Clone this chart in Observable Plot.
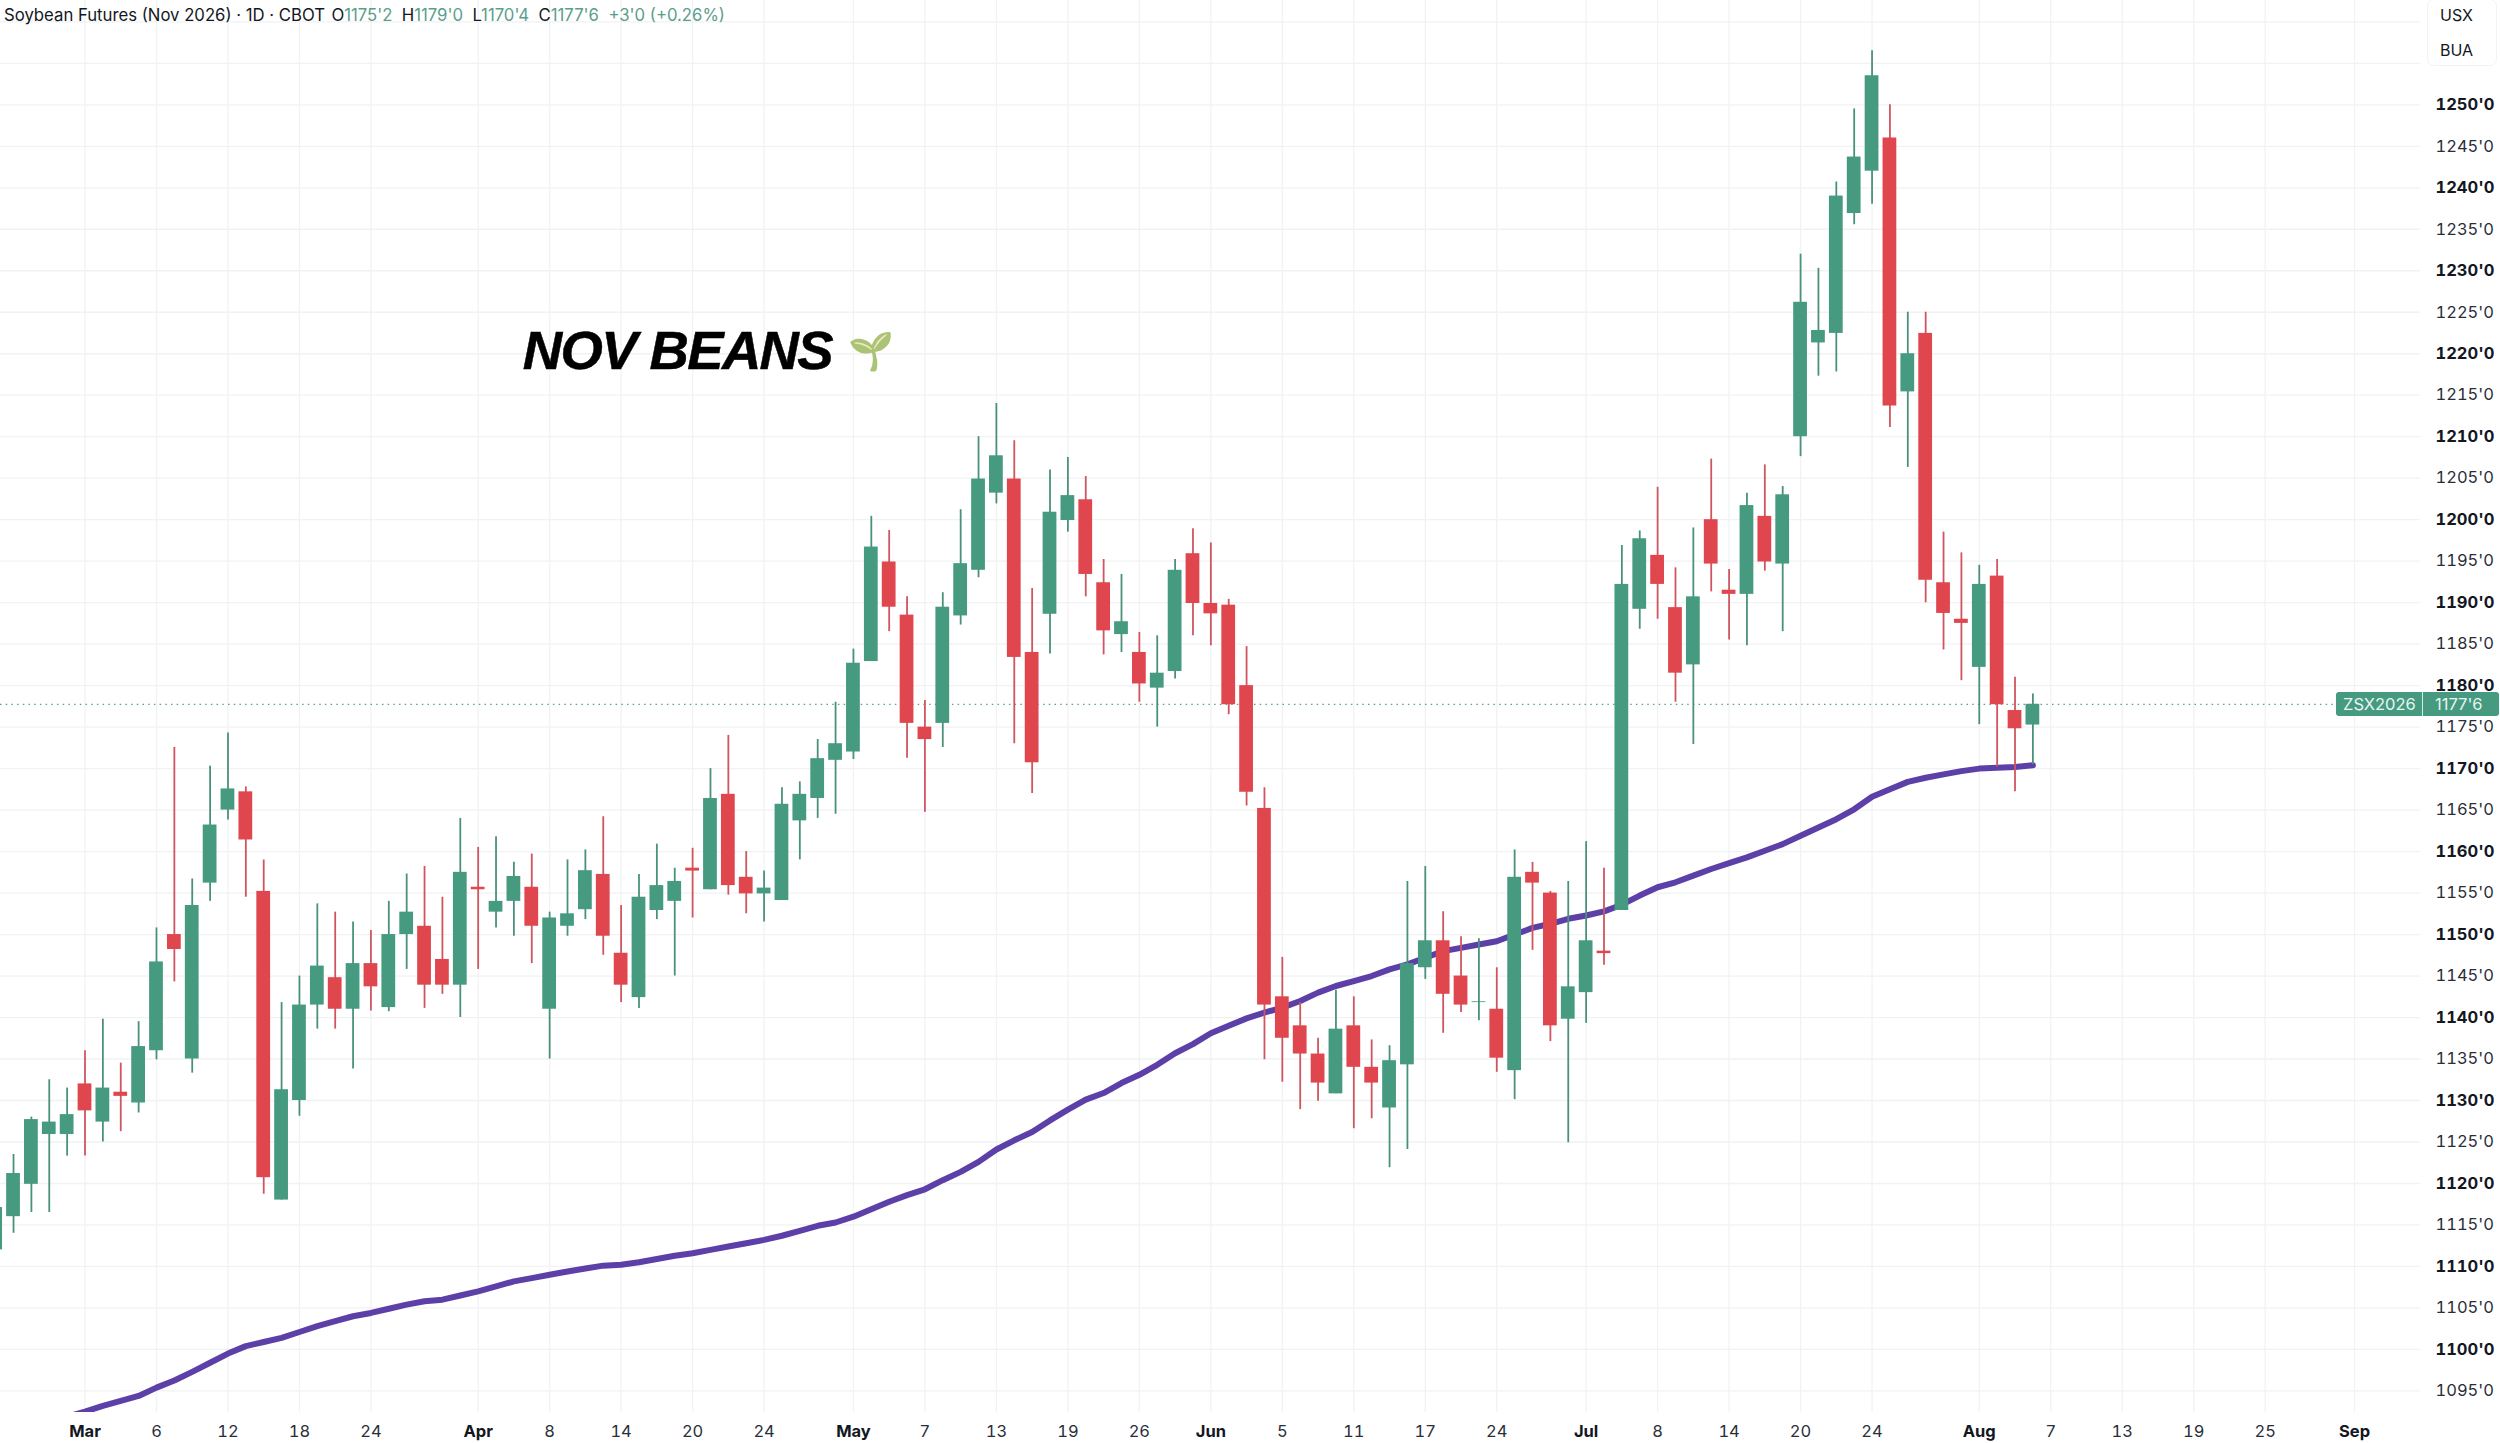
<!DOCTYPE html>
<html><head><meta charset="utf-8">
<script src="https://cdn.jsdelivr.net/npm/d3@7"></script>
<script src="https://cdn.jsdelivr.net/npm/@observablehq/plot@0.6"></script>
<style>
html,body{margin:0;padding:0;background:#fff;overflow:hidden}
#wrap{position:relative;width:2500px;height:1443px;font-family:Inter,sans-serif;color:#131722}
#head{position:absolute;left:4px;top:3px;font-size:16.72px;line-height:24px;white-space:pre}
#head .v{color:#5b9e8a}
#head .o{margin-left:-3px}
#unit{position:absolute;left:2427px;top:-1px;width:70px;height:67px;border:1px solid #f2f3f5;border-radius:7px;box-sizing:border-box;font-size:16px}
#unit div{position:absolute;left:12px}
#tag{position:absolute;left:2336px;width:163px;height:24px;background:#459a80;color:#e9f4f0;border-radius:3px;font-size:16.5px;line-height:24px}
#tag span{position:absolute;top:0}
#tag i{position:absolute;left:86px;top:0;width:1px;height:24px;background:#d8ebe5}
.beans text{letter-spacing:-1.65px;stroke:#000;stroke-width:.5px}
.sprout text{filter:saturate(.55) brightness(1.05)}
</style></head><body><div id="wrap"></div>
<script>
const firstIndex = -5;
const opens = [
 1112,1116,1119.9,1125.9,1125.9,1132,1127.4,1131,1129.7,1136,
 1150,1135,1156.2,1165,1167.2,1155.2,1118,1130,1141.5,1144.8,
 1141,1146.5,1141.2,1150,1151,1147,1143.9,1155.7,1152.7,1154,
 1155.7,1141,1151,1153,1157.25,1147.75,1142.4,1152.9,1154,1158,
 1155.4,1166.9,1156.9,1154.9,1154.1,1163.7,1166.4,1171,1172,1182.9,
 1194.9,1188.5,1175,1175.45,1188.4,1193.9,1203.2,1204.9,1184,1188.6,
 1199.9,1202.4,1192.4,1186.15,1184,1179.7,1181.7,1195.9,1189.9,1189.7,
 1180,1165.2,1142.5,1139,1135.6,1130.8,1139,1134,1129.1,1134.3,
 1146,1149.25,1145,1141.8,1141,1133.6,1157.5,1155,1139.8,1143,
 1148,1152.9,1189.2,1195.7,1189.4,1182.5,1200,1191.5,1191,1200.4,
 1194.65,1210,1221.3,1222.45,1236.9,1242,1246,1215.4,1222.45,1192.4,
 1188,1182.2,1193.2,1177,1175.25];
const closes = [
 1117.1,1121.2,1127.7,1127.4,1128.3,1128.75,1131.5,1130.5,1136.5,1146.7,
 1148.2,1153.5,1163.2,1167.55,1161.4,1120.7,1131.3,1141.5,1146.2,1141,
 1146.5,1143.7,1150,1152.7,1143.9,1143.9,1157.5,1155.4,1154,1157,
 1151,1152,1152.5,1157.7,1149.8,1143.9,1154.5,1155.9,1156.4,1157.65,
 1166.4,1155.9,1154.9,1155.6,1165.7,1166.9,1171.2,1173,1182.7,1196.7,
 1189.45,1175.45,1173.5,1189.45,1194.7,1204.9,1207.7,1183.4,1170.7,1200.9,
 1202.9,1193.4,1186.6,1187.7,1180.2,1181.5,1193.9,1189.9,1188.65,1177.7,
 1167.15,1141.5,1137.5,1135.6,1132.1,1138.6,1134,1132.1,1134.8,1146.5,
 1149.25,1142.8,1141.5,1141.9,1135.1,1156.9,1156.2,1139,1143.7,1149.25,
 1147.7,1192.2,1197.7,1192.2,1181.5,1190.7,1194.65,1191,1201.7,1194.9,
 1203,1226.2,1222.8,1239,1243.7,1253.5,1213.7,1220,1192.7,1188.7,
 1187.5,1192.2,1177.7,1174.8,1177.75];
const highs = [
 1118,1123.5,1128,1132.5,1131.5,1136,1139.8,1134.5,1139.5,1150.8,
 1172.55,1156.7,1170.3,1174.3,1167.8,1159,1141.8,1145,1153.7,1152.7,
 1151.5,1150.5,1154,1157.3,1158.2,1154.5,1164,1160.5,1161.8,1158.7,
 1159.7,1152.7,1159,1160.2,1164.2,1153.5,1157.25,1160.9,1158,1160.4,
 1170,1174,1160,1157.65,1167.7,1168.4,1173.5,1178,1184.4,1200.4,
 1198.7,1190.7,1178.2,1191.2,1201.2,1210,1214,1209.5,1191.7,1206,
 1207.5,1205.2,1195.2,1193.4,1186.4,1186,1195.2,1198.9,1197.2,1190.4,
 1184.7,1167.7,1147.25,1141.8,1137.5,1143.3,1142.5,1137.3,1136.6,1156.4,
 1158.2,1152.75,1149.75,1149.5,1146,1160.2,1158.7,1155.2,1156.4,1161.2,
 1158,1196.9,1198.65,1203.9,1194.2,1199,1207.3,1194,1203.2,1206.6,
 1204,1232,1230.3,1240.7,1249.5,1256.5,1250,1225,1225,1198.5,
 1196,1194.5,1195.2,1181,1179];
const lows = [
 1111.7,1114,1116.5,1116.5,1123.3,1123.3,1125,1126.25,1128.5,1134.9,
 1144.3,1133.3,1154,1163.8,1154.5,1118.7,1118,1128.1,1138.6,1138.6,
 1133.8,1140.8,1140.7,1145.8,1141.1,1142.8,1140,1145.8,1150.8,1149.8,
 1146.5,1135,1149.8,1151.8,1147.5,1141.8,1141.1,1151.8,1145,1152,
 1155.4,1154.75,1152.5,1151.5,1154.1,1159,1164,1164.5,1171.1,1182.9,
 1186.5,1171.25,1164.75,1172.55,1187.3,1193,1201.9,1173,1167,1183.8,
 1198.5,1190.7,1183.7,1184,1178,1175,1180.8,1186,1184.8,1176.5,
 1165.5,1134.9,1132.2,1128.9,1129.9,1130.8,1126.6,1127.8,1121.9,1124.1,
 1144.6,1138.1,1140.6,1139.6,1133.4,1130.1,1148.1,1137.1,1124.9,1139.3,
 1146.3,1152.9,1186.8,1188,1178,1172.9,1191.3,1185.5,1184.8,1193.8,
 1186.5,1207.6,1217.3,1217.8,1235.55,1238,1211.1,1206.3,1190,1184.3,
 1180.6,1175.3,1170.2,1167.2,1170.5];
const maFirstIndex = -1;
const ma50 = [
 1091.9,1092.5,1093.2,1093.8,1094.4,1095.4,1096.25,1097.3,1098.4,1099.5,1100.4,1100.9,1101.4,
 1102.1,1102.8,1103.4,1104,1104.4,1104.9,1105.4,1105.8,1106,1106.5,1107,1107.6,1108.2,
 1108.6,1109,1109.4,1109.75,1110.1,1110.2,1110.5,1110.9,1111.3,1111.6,1112,1112.4,1112.8,
 1113.2,1113.7,1114.3,1114.9,1115.3,1116,1116.9,1117.8,1118.6,1119.3,1120.4,1121.4,1122.6,1124.1,
 1125.2,1126.2,1127.6,1128.9,1130.1,1130.9,1132.1,1133.1,1134.3,1135.7,1136.8,1138.1,1139,1139.9,
 1140.6,1141.2,1142,1143,1143.8,1144.4,1145,1145.8,1146.4,1147.2,1148,1148.4,1148.8,1149.2,
 1150,1150.8,1151.3,1151.9,1152.3,1152.8,1153.6,1154.7,1155.7,1156.3,1157.1,1157.9,1158.6,1159.3,
 1160.1,1160.9,1161.9,1162.9,1163.9,1165.1,1166.6,1167.5,1168.4,1168.9,1169.3,1169.7,1170,1170.1,1170.2,1170.4];
const tickIndex = [0,4,8,12,16,22,26,30,34,38,43,47,51,55,59,63,67,71,75,79,84,88,92,96,100,106,110,114,118,122,127];
const tickLabel = ["Mar","6","12","18","24","Apr","8","14","20","24","May","7","13","19","26","Jun","5","11","17","24","Jul","8","14","20","24","Aug","7","13","19","25","Sep"];
const monthNames = ["Mar","Apr","May","Jun","Jul","Aug","Sep"];
const gridPrices = d3.range(1095, 1265, 5);
const labelPrices = d3.range(1095, 1255, 5);
const lastPrice = 1177.75;

const bars = opens.map((o,k)=>({i:firstIndex+k,o,c:closes[k],h:highs[k],l:lows[k]}));
const up = bars.filter(d=>d.c>=d.o), down = bars.filter(d=>d.c<d.o);
const maLine = ma50.map((v,k)=>({i:maFirstIndex+k,v}));
const labelOf = new Map(tickIndex.map((t,k)=>[t,tickLabel[k]]));
const isMonth = t=>monthNames.includes(labelOf.get(t));
const fmt = d=>d+"'0";
const green="#459a80", red="#e0464e", wickG="#4a917b", wickR="#cf5560", gridC="#f1f2f4";
const halfBody=0.385;
const body=(data,fill)=>Plot.rect(data,{x1:d=>d.i-halfBody,x2:d=>d.i+halfBody,y1:"o",y2:"c",fill});

const chart = Plot.plot({
  width:2500,height:1443,marginLeft:0,marginRight:80,marginTop:0,marginBottom:31,
  style:{fontFamily:"Inter,sans-serif",color:"#131722",background:"#fff"},
  x:{domain:[-4.729,130.69]},
  y:{domain:[1092.4,1262.57]},
  marks:[
    Plot.gridX(tickIndex,{stroke:gridC,strokeOpacity:1,strokeWidth:1.3}),
    Plot.gridY(gridPrices,{stroke:gridC,strokeOpacity:1,strokeWidth:1.3}),
    Plot.ruleY([lastPrice],{stroke:"#3f8f78",strokeDasharray:"1.5 4.2",strokeWidth:1.2,strokeOpacity:.85}),
    Plot.line(maLine,{x:"i",y:"v",stroke:"#5c40a8",strokeWidth:6,clip:true}),
    Plot.ruleX(up,{x:"i",y1:"l",y2:"h",stroke:wickG,strokeWidth:1.8}),
    Plot.ruleX(down,{x:"i",y1:"l",y2:"h",stroke:wickR,strokeWidth:1.8}),
    body(up,green),
    body(down,red),
    Plot.axisY(labelPrices.filter(d=>d%10==5),{anchor:"right",tickSize:0,tickPadding:15,tickFormat:fmt,fontSize:16.5,label:null,fill:"#2a2e39"}),
    Plot.axisY(labelPrices.filter(d=>d%10==0),{anchor:"right",tickSize:0,tickPadding:15,tickFormat:fmt,fontSize:16.5,fontWeight:700,label:null,fill:"#131722"}),
    Plot.axisX(tickIndex.filter(t=>!isMonth(t)),{anchor:"bottom",tickSize:0,tickPadding:13,tickFormat:t=>labelOf.get(t),fontSize:16.5,label:null,fill:"#2a2e39"}),
    Plot.axisX(tickIndex.filter(isMonth),{anchor:"bottom",tickSize:0,tickPadding:13,tickFormat:t=>labelOf.get(t),fontSize:16.5,fontWeight:700,label:null,fill:"#131722"}),
    Plot.text(["NOV BEANS"],{x:24.5,y:1220.25,text:d=>d,textAnchor:"start",fontSize:54.5,fontWeight:700,fontStyle:"italic",fontFamily:"Liberation Sans, Arial, sans-serif",fill:"#000",className:"beans"}),
    Plot.text(["🌱"],{x:42.72,y:1220.16,text:d=>d,textAnchor:"start",fontSize:37,className:"sprout"})
  ]
});
const wrap=document.getElementById("wrap");
wrap.appendChild(chart);
const yPx=chart.scale("y").apply(lastPrice);
const extra=document.createElement("div");
extra.innerHTML=`<div id="head">Soybean Futures (Nov 2026) · 1D · CBOT  <span class="o">O</span><span class="v">1175'2</span>  H<span class="v">1179'0</span>  L<span class="v">1170'4</span>  C<span class="v">1177'6</span>  <span class="v">+3'0 (+0.26%)</span></div>
<div id="unit"><div style="top:5px">USX</div><div style="top:40px">BUA</div></div>
<div id="tag" style="top:${yPx-12}px"><span style="left:7px">ZSX2026</span><i></i><span style="left:99px">1177'6</span></div>`;
wrap.appendChild(extra);
</script></body></html>
